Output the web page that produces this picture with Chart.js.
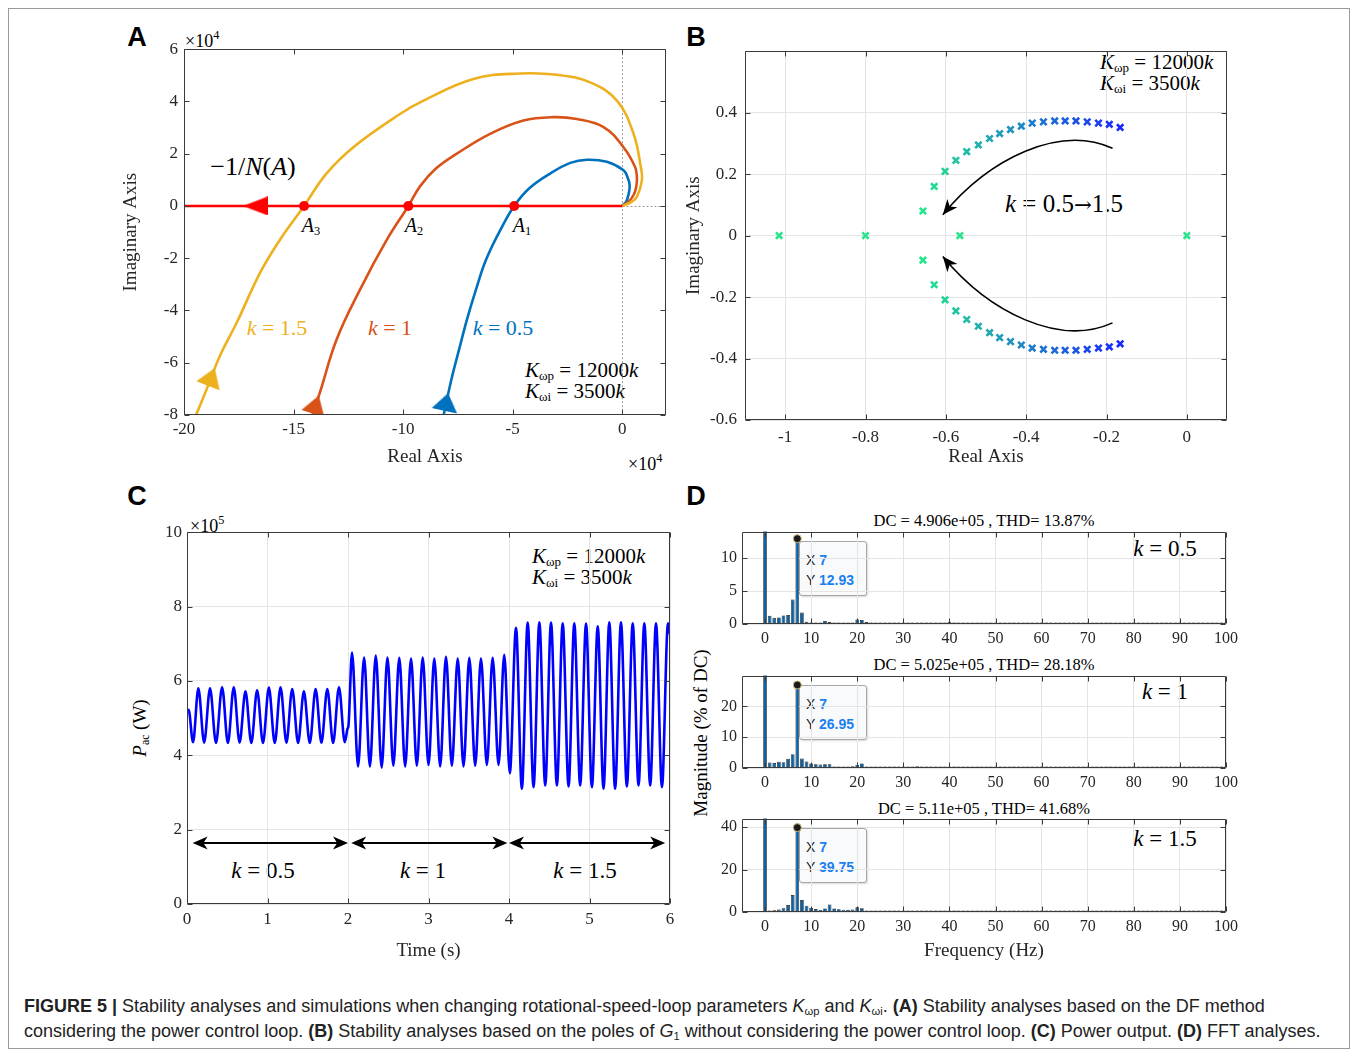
<!DOCTYPE html>
<html>
<head>
<meta charset="utf-8">
<title>Figure 5</title>
<script src="https://cdn.jsdelivr.net/npm/chart.js@4.4.1/dist/chart.umd.min.js"></script>
<style>
  html, body { margin: 0; padding: 0; background: #fff; }
  body { position: relative; width: 1356px; height: 1051px; overflow: hidden; }
  canvas { position: absolute; }
  .frame { position: absolute; left: 8px; top: 8px; width: 1342px; height: 1041px; border: 1px solid #9a9a9a; box-sizing: border-box; }
  .t { position: absolute; font-family: "Liberation Serif", "Times New Roman", serif; color: #000; white-space: nowrap; line-height: 1; transform: translate(-50%, -50%); }
  .lt { transform: translate(0, -50%); }
  .sub { font-size: 0.62em; vertical-align: -0.28em; line-height: 0; }
  .sup { font-size: 0.68em; vertical-align: 0.62em; line-height: 0; }
  .arr { font-family: "DejaVu Serif", serif; font-size: 0.85em; }
  .panel { position: absolute; font-family: "Liberation Sans", Arial, sans-serif; font-weight: bold; font-size: 27px; line-height: 1; transform: translate(-50%, -50%); }
  .tip { position: absolute; width: 68px; height: 55px; box-sizing: border-box; border: 1px solid #a6a6a6; border-radius: 3px; background: #f9fafc; font-family: "Liberation Sans", Arial, sans-serif; font-size: 14px; line-height: 20px; padding: 8px 0 0 6px; color: #222; box-shadow: 1px 1px 2px rgba(0,0,0,0.15); white-space: nowrap; }
  .tip b { color: #1a7ff0; }
  .caption { position: absolute; left: 24px; top: 994px; font-family: "Liberation Sans", Arial, sans-serif; font-size: 18px; line-height: 25px; color: #222; white-space: nowrap; }
</style>
</head>
<body>
<div class="frame"></div>

<div class="panel" style="left:137px;top:37px">A</div>
<div class="panel" style="left:696px;top:37px">B</div>
<div class="panel" style="left:137px;top:496px">C</div>
<div class="panel" style="left:696px;top:496px">D</div>

<!-- panel A text -->
<div class="t lt" style="left:185px;top:41px;font-size:18px">×10<span class="sup">4</span></div>
<div class="t lt" style="left:628px;top:464px;font-size:18px">×10<span class="sup">4</span></div>
<div class="t" style="left:253px;top:167px;font-size:26px">−1/<i>N</i>(<i>A</i>)</div>
<div class="t" style="left:311px;top:225px;font-size:20px"><i>A</i><span class="sub">3</span></div>
<div class="t" style="left:414px;top:225px;font-size:20px"><i>A</i><span class="sub">2</span></div>
<div class="t" style="left:522px;top:225px;font-size:20px"><i>A</i><span class="sub">1</span></div>
<div class="t" style="left:277px;top:328px;font-size:22px;color:#EDB120"><i>k</i> = 1.5</div>
<div class="t" style="left:390px;top:328px;font-size:22px;color:#D95319"><i>k</i> = 1</div>
<div class="t" style="left:503px;top:328px;font-size:22px;color:#0072BD"><i>k</i> = 0.5</div>
<div class="t lt" style="left:525px;top:370px;font-size:21px"><i>K</i><span class="sub">ωp</span> = 12000<i>k</i></div>
<div class="t lt" style="left:525px;top:391px;font-size:21px"><i>K</i><span class="sub">ωi</span> = 3500<i>k</i></div>

<!-- panel B text -->
<div class="t lt" style="left:1100px;top:62px;font-size:21px"><i>K</i><span class="sub">ωp</span> = 12000<i>k</i></div>
<div class="t lt" style="left:1100px;top:83px;font-size:21px"><i>K</i><span class="sub">ωi</span> = 3500<i>k</i></div>
<div class="t" style="left:1064px;top:203px;font-size:25px"><i>k</i> = 0.5<span class="arr">→</span>1.5</div>

<!-- panel C text -->
<div class="t lt" style="left:190px;top:526px;font-size:18px">×10<span class="sup">5</span></div>
<div class="t lt" style="left:532px;top:556px;font-size:21px"><i>K</i><span class="sub">ωp</span> = 12000<i>k</i></div>
<div class="t lt" style="left:532px;top:577px;font-size:21px"><i>K</i><span class="sub">ωi</span> = 3500<i>k</i></div>
<div class="t" style="left:263px;top:870px;font-size:23px"><i>k</i> = 0.5</div>
<div class="t" style="left:423px;top:870px;font-size:23px"><i>k</i> = 1</div>
<div class="t" style="left:585px;top:870px;font-size:23px"><i>k</i> = 1.5</div>
<div class="t" style="left:139px;top:728px;font-size:19px;transform:translate(-50%,-50%) rotate(-90deg)"><i>P</i><span class="sub">ac</span> (W)</div>

<!-- panel D text -->
<div class="t" style="left:984px;top:521px;font-size:16.5px">DC = 4.906e+05 , THD= 13.87%</div>
<div class="t" style="left:984px;top:665px;font-size:16.5px">DC = 5.025e+05 , THD= 28.18%</div>
<div class="t" style="left:984px;top:809px;font-size:16.5px">DC = 5.11e+05 , THD= 41.68%</div>
<div class="t" style="left:1165px;top:548px;font-size:23px"><i>k</i> = 0.5</div>
<div class="t" style="left:1165px;top:691px;font-size:23px"><i>k</i> = 1</div>
<div class="t" style="left:1165px;top:838px;font-size:23px"><i>k</i> = 1.5</div>
<div class="t" style="left:700px;top:733px;font-size:19px;transform:translate(-50%,-50%) rotate(-90deg)">Magnitude (% of DC)</div>
<div class="tip" style="left:799px;top:541px">X <b>7</b><br>Y <b>12.93</b></div>
<div class="tip" style="left:799px;top:685px">X <b>7</b><br>Y <b>26.95</b></div>
<div class="tip" style="left:799px;top:828px">X <b>7</b><br>Y <b>39.75</b></div>

<div class="caption"><b>FIGURE 5 |</b> Stability analyses and simulations when changing rotational-speed-loop parameters <i>K</i><span class="sub">ωp</span> and <i>K</i><span class="sub">ωi</span>. <b>(A)</b> Stability analyses based on the DF method<br>considering the power control loop. <b>(B)</b> Stability analyses based on the poles of <i>G</i><span class="sub">1</span> without considering the power control loop. <b>(C)</b> Power output. <b>(D)</b> FFT analyses.</div>

<script>
// ---------- A: DF loci (both axes in units of 1e4) ----------
const aK05Re = [0, 0.18, 0.30, 0.34, 0.24, 0.06, -0.70, -1.61, -2.37, -3.29, -4.25, -4.93, -5.53, -6.21, -6.67, -7.08, -7.44, -7.79, -8.15];
const aK05Im = [0, 0.16, 0.48, 0.80, 1.11, 1.37, 1.69, 1.77, 1.65, 1.24, 0.67, 0, -0.87, -2.05, -3.19, -4.33, -5.48, -6.62, -8.00];
const aK1Re = [0, 0.29, 0.52, 0.64, 0.67, 0.59, 0.06, -0.85, -2.07, -3.14, -4.51, -6.03, -7.55, -8.49, -9.22, -9.76, -10.74, -11.96, -13.03, -13.79, -14.14];
const aK1Im = [0, 0.16, 0.42, 0.73, 1.11, 1.49, 2.25, 3.02, 3.33, 3.40, 3.27, 2.76, 2.00, 1.44, 0.76, 0, -1.29, -3.19, -5.10, -7.12, -8.00];
const aK15Re = [0, 0.37, 0.67, 0.90, 0.85, 0.52, -0.24, -1.46, -2.98, -4.66, -6.79, -9.07, -10.14, -12.27, -13.52, -14.52, -15.62, -16.53, -17.59, -18.36, -18.96, -19.45];
const aK15Im = [0, 0.13, 0.35, 0.99, 1.49, 2.76, 4.03, 4.73, 5.02, 5.07, 4.86, 4.03, 3.52, 2.25, 1.22, 0, -1.29, -2.56, -4.46, -5.73, -7.00, -8.00];
const aDfRe = [0, -20];            // -1/N(A) along the negative real axis
const aDfIm = [0, 0];
const aCrossRe = [-4.93, -9.76, -14.52];   // A1, A2, A3
const aArrowRe = [-18.75, -13.98, -8.03, -16.74];
const aArrowIm = [-6.54, -7.60, -7.50, 0];
const aXTicks = [-20, -15, -10, -5, 0];
const aXLabels = ['-20', '-15', '-10', '-5', '0'];
const aYTicks = [-8, -6, -4, -2, 0, 2, 4, 6];
const aYLabels = ['-8', '-6', '-4', '-2', '0', '2', '4', '6'];

// ---------- B: poles of G1, k = 0.5 (right) ... 1.5 (left) ----------
const bUpperRe = [-0.166, -0.193, -0.220, -0.248, -0.276, -0.303, -0.329, -0.357, -0.385, -0.412, -0.439, -0.466, -0.491, -0.519, -0.548, -0.575, -0.602, -0.629, -0.657];
const bUpperIm = [0.352, 0.362, 0.366, 0.370, 0.373, 0.373, 0.373, 0.370, 0.366, 0.356, 0.345, 0.332, 0.316, 0.295, 0.273, 0.245, 0.209, 0.160, 0.080];
const bLowerRe = [-0.166, -0.193, -0.220, -0.248, -0.276, -0.303, -0.329, -0.357, -0.385, -0.412, -0.439, -0.466, -0.491, -0.519, -0.548, -0.575, -0.602, -0.629, -0.657];
const bLowerIm = [-0.352, -0.362, -0.366, -0.370, -0.373, -0.373, -0.373, -0.370, -0.366, -0.356, -0.345, -0.332, -0.316, -0.295, -0.273, -0.245, -0.209, -0.160, -0.080];
const bRealRe = [-1.015, -0.8, -0.565, 0];
const bRealIm = [0, 0, 0, 0];
const bXTicks = [-1, -0.8, -0.6, -0.4, -0.2, 0];
const bXLabels = ['-1', '-0.8', '-0.6', '-0.4', '-0.2', '0'];
const bYTicks = [-0.6, -0.4, -0.2, 0, 0.2, 0.4, 0.6];
const bYLabels = ['-0.6', '-0.4', '-0.2', '0', '0.2', '0.4', ''];

// ---------- C: Pac (units of 1e5 W), turning points of the oscillation ----------
const cTime = [0, 0.02, 0.075, 0.141, 0.213, 0.286, 0.36, 0.436, 0.508, 0.581, 0.653, 0.726, 0.799, 0.871, 0.944, 1.017, 1.09, 1.162, 1.235, 1.307, 1.38, 1.452, 1.525, 1.598, 1.67, 1.743, 1.815, 1.888, 1.96,
  1.995, 2.005,
  2.05, 2.125, 2.20, 2.272, 2.345, 2.418, 2.49, 2.563, 2.637, 2.71, 2.783, 2.855, 2.928, 3.0, 3.072, 3.145, 3.217, 3.29, 3.363, 3.435, 3.507, 3.58, 3.652, 3.725, 3.797, 3.87, 3.941,
  4.01,
  4.087, 4.16, 4.232, 4.305, 4.377, 4.45, 4.522, 4.595, 4.667, 4.74, 4.811, 4.884, 4.957, 5.03, 5.102, 5.174, 5.246, 5.318, 5.391, 5.464, 5.537, 5.609, 5.681, 5.754, 5.826, 5.9, 5.975,
  6.0];
const cPower = [5.18, 5.22, 4.35, 5.80, 4.34, 5.80, 4.33, 5.83, 4.33, 5.83, 4.34, 5.72, 4.33, 5.75, 4.33, 5.82, 4.33, 5.83, 4.34, 5.78, 4.33, 5.72, 4.33, 5.78, 4.34, 5.78, 4.33, 5.83, 4.35,
  4.72, 4.78,
  6.76, 3.70, 6.63, 3.70, 6.68, 3.67, 6.63, 3.72, 6.62, 3.70, 6.60, 3.72, 6.63, 3.74, 6.60, 3.70, 6.65, 3.72, 6.60, 3.70, 6.62, 3.72, 6.60, 3.74, 6.62, 3.74, 6.70,
  3.52,
  7.43, 3.10, 7.57, 3.14, 7.58, 3.19, 7.57, 3.19, 7.55, 3.16, 7.55, 3.19, 7.54, 3.14, 7.47, 3.10, 7.58, 3.10, 7.58, 3.16, 7.55, 3.19, 7.55, 3.19, 7.55, 3.14, 7.55,
  7.25];
const cXTicks = [0, 1, 2, 3, 4, 5, 6];
const cXLabels = ['0', '1', '2', '3', '4', '5', '6'];
const cYTicks = [0, 2, 4, 6, 8, 10];
const cYLabels = ['0', '2', '4', '6', '8', '10'];

// ---------- D: FFT of Pac, magnitude in % of DC ----------
const dFreq = [0, 1, 2, 3, 4, 5, 6, 7, 8, 9, 10, 11, 12, 13, 14, 15, 16, 17, 18, 19, 20, 21, 22, 23, 24, 25, 26, 27, 28, 29, 30, 31, 32, 33, 34, 35, 36, 37, 38, 39, 40, 41, 42, 43, 44, 45, 46, 47, 48, 49, 50,
  51, 52, 53, 54, 55, 56, 57, 58, 59, 60, 61, 62, 63, 64, 65, 66, 67, 68, 69, 70, 71, 72, 73, 74, 75, 76, 77, 78, 79, 80, 81, 82, 83, 84, 85, 86, 87, 88, 89, 90, 91, 92, 93, 94, 95, 96, 97, 98, 99, 100];
const dMagK05 = [100, 1.25, 0.95, 1.0, 1.3, 1.35, 3.7, 12.93, 1.75, 0.35,
  0.12, 0.08, 0.1, 0.45, 0.3, 0.08, 0.06, 0.06, 0.08, 0.1,
  0.7, 0.6, 0.3, 0.08, 0.06, 0.05, 0.06, 0.05, 0.06, 0.05,
  0.06, 0.05, 0.06, 0.05, 0.06, 0.05, 0.06, 0.05, 0.06, 0.08,
  0.35, 0.1, 0.05, 0.05, 0.05, 0.05, 0.05, 0.05, 0.05, 0.05,
  0.05, 0.05, 0.05, 0.05, 0.05, 0.05, 0.05, 0.05, 0.05, 0.05,
  0.05, 0.05, 0.05, 0.05, 0.05, 0.05, 0.05, 0.05, 0.05, 0.05,
  0.05, 0.05, 0.05, 0.05, 0.05, 0.05, 0.05, 0.05, 0.05, 0.05,
  0.05, 0.05, 0.05, 0.05, 0.05, 0.05, 0.05, 0.05, 0.05, 0.05,
  0.05, 0.05, 0.05, 0.05, 0.05, 0.05, 0.05, 0.05, 0.05, 0.05, 0.05];
const dMagK1 = [100, 1.8, 1.6, 2.0, 1.9, 3.0, 4.5, 26.95, 3.1, 2.1,
  1.5, 1.2, 1.1, 1.2, 1.2, 0.1, 0.08, 0.08, 0.1, 0.6,
  1.0, 1.5, 0.5, 0.4, 0.35, 0.3, 0.35, 0.3, 0.3, 0.2,
  0.2, 0.15, 0.2, 0.6, 0.5, 0.1, 0.08, 0.06, 0.06, 0.06,
  0.06, 0.06, 0.06, 0.06, 0.06, 0.06, 0.06, 0.06, 0.06, 0.06,
  0.06, 0.06, 0.06, 0.06, 0.06, 0.06, 0.06, 0.06, 0.06, 0.06,
  0.06, 0.06, 0.06, 0.06, 0.06, 0.06, 0.06, 0.06, 0.06, 0.06,
  0.06, 0.06, 0.06, 0.06, 0.06, 0.06, 0.06, 0.06, 0.06, 0.06,
  0.06, 0.06, 0.06, 0.06, 0.06, 0.06, 0.06, 0.06, 0.06, 0.06,
  0.06, 0.06, 0.06, 0.06, 0.06, 0.06, 0.06, 0.06, 0.06, 0.06, 0.06];
const dMagK15 = [100, 0.5, 0.8, 1.2, 1.8, 3.3, 8.0, 39.75, 5.6, 3.0,
  2.0, 1.4, 1.0, 1.7, 3.5, 1.7, 1.3, 1.1, 1.1, 1.2,
  2.2, 1.8, 0.6, 0.5, 0.4, 0.3, 0.3, 0.4, 0.6, 0.7,
  0.5, 0.5, 0.7, 0.7, 0.7, 0.15, 0.1, 0.08, 0.08, 0.08,
  0.08, 0.06, 0.06, 0.06, 0.06, 0.06, 0.06, 0.06, 0.4, 0.06,
  0.06, 0.06, 0.06, 0.06, 0.06, 0.06, 0.06, 0.06, 0.06, 0.06,
  0.06, 0.06, 0.06, 0.06, 0.06, 0.06, 0.06, 0.06, 0.06, 0.06,
  0.06, 0.06, 0.06, 0.06, 0.06, 0.06, 0.06, 0.06, 0.06, 0.06,
  0.06, 0.06, 0.06, 0.06, 0.06, 0.06, 0.06, 0.06, 0.06, 0.06,
  0.06, 0.06, 0.06, 0.06, 0.06, 0.06, 0.06, 0.06, 0.06, 0.06, 0.06];
const dXTicks = [0, 10, 20, 30, 40, 50, 60, 70, 80, 90, 100];
const dXLabels = ['0', '10', '20', '30', '40', '50', '60', '70', '80', '90', '100'];
const dPeakIdx = 7;   // 7 Hz line marked with a data tip

// ---------- helpers ----------
Chart.defaults.font.family = '"Liberation Serif", "Times New Roman", serif';
Chart.defaults.color = '#262626';
Chart.defaults.animation = false;
Chart.defaults.plugins.legend.display = false;
Chart.defaults.plugins.tooltip.enabled = false;

const pts = (xs, ys) => xs.map((v, i) => ({x: v, y: ys[i]}));

function axis(min, max, ticks, labels, size, pad, grid, title) {
  return {
    type: 'linear', min, max,
    afterBuildTicks: s => { s.ticks = ticks.map(v => ({value: v})); },
    ticks: {autoSkip: false, maxRotation: 0, minRotation: 0, padding: pad, font: {size}, callback: (v, i) => labels[i]},
    grid: {display: grid, color: '#e4e4e4', lineWidth: 1, drawTicks: false},
    border: {display: false},
    title: {display: !!title, text: title || '', font: {size: 19}, padding: 0, color: '#262626'}
  };
}

// place a canvas so that the plot area lands on `area`; m = room for labels around it
function makeChart(area, m, config, plugins) {
  const c = document.createElement('canvas');
  const w = area.r - area.l + m.l + m.r, h = area.b - area.t + m.t + m.b;
  c.width = w; c.height = h;
  c.style.left = (area.l - m.l) + 'px'; c.style.top = (area.t - m.t) + 'px';
  c.style.width = w + 'px'; c.style.height = h + 'px';
  document.body.appendChild(c);
  const o = config.options;
  o.responsive = false;
  o.devicePixelRatio = 1;
  o.events = [];
  o.layout = {padding: {left: 0, top: m.t, right: m.r, bottom: 0}};
  o.scales.x.afterFit = s => { s.height = m.b; };
  o.scales.y.afterFit = s => { s.width = m.l; };
  config.plugins = [frameBox].concat(plugins || []);
  return new Chart(c, config);
}

function arrowHead(ctx, x, y, ang, len, half) {
  const bx = x - len * Math.cos(ang), by = y - len * Math.sin(ang);
  const nx = x - 0.72 * len * Math.cos(ang), ny = y - 0.72 * len * Math.sin(ang);
  ctx.beginPath();
  ctx.moveTo(x, y);
  ctx.lineTo(bx + half * Math.sin(ang), by - half * Math.cos(ang));
  ctx.lineTo(nx, ny);
  ctx.lineTo(bx - half * Math.sin(ang), by + half * Math.cos(ang));
  ctx.closePath();
  ctx.fill();
}

// matlab style box with inward ticks on all four sides
const frameBox = {
  id: 'frameBox',
  afterDatasetsDraw(chart) {
    const {ctx, chartArea: a} = chart;
    const sx = chart.scales.x, sy = chart.scales.y;
    const L = Math.round(a.left) + 0.5, R = Math.round(a.right) - 0.5;
    const T = Math.round(a.top) + 0.5, B = Math.round(a.bottom) - 0.5;
    const len = 5;
    ctx.save();
    ctx.strokeStyle = '#3a3a3a';
    ctx.lineWidth = 1;
    ctx.beginPath();
    ctx.rect(L, T, R - L, B - T);
    sx.ticks.forEach(t => {
      const p = Math.round(sx.getPixelForValue(t.value)) + 0.5;
      ctx.moveTo(p, B); ctx.lineTo(p, B - len);
      ctx.moveTo(p, T); ctx.lineTo(p, T + len);
    });
    sy.ticks.forEach(t => {
      const p = Math.round(sy.getPixelForValue(t.value)) + 0.5;
      ctx.moveTo(L, p); ctx.lineTo(L + len, p);
      ctx.moveTo(R, p); ctx.lineTo(R - len, p);
    });
    ctx.stroke();
    ctx.restore();
  }
};

// dotted zero lines of the nyquist plot
const zeroLines = {
  id: 'zeroLines',
  beforeDatasetsDraw(chart) {
    const {ctx, chartArea: a, scales: {x, y}} = chart;
    const px = Math.round(x.getPixelForValue(0)) + 0.5, py = Math.round(y.getPixelForValue(0)) + 0.5;
    ctx.save();
    ctx.strokeStyle = '#9c9c9c';
    ctx.lineWidth = 1;
    ctx.setLineDash([2, 2]);
    ctx.beginPath();
    ctx.moveTo(px, a.top); ctx.lineTo(px, a.bottom);
    ctx.moveTo(px, py); ctx.lineTo(a.right, py);
    ctx.stroke();
    ctx.restore();
  }
};

// curved arrows showing pole movement
const poleArrows = {
  id: 'poleArrows',
  afterDatasetsDraw(chart, args, opts) {
    const {ctx, scales: {x, y}} = chart;
    ctx.save();
    ctx.strokeStyle = '#000';
    ctx.fillStyle = '#000';
    ctx.lineWidth = 1.6;
    opts.paths.forEach(p => {
      const q = p.map(([u, v]) => [x.getPixelForValue(u), y.getPixelForValue(v)]);
      ctx.beginPath();
      ctx.moveTo(q[0][0], q[0][1]);
      ctx.bezierCurveTo(q[1][0], q[1][1], q[2][0], q[2][1], q[3][0], q[3][1]);
      ctx.stroke();
      const ang = Math.atan2(q[3][1] - q[2][1], q[3][0] - q[2][0]);
      arrowHead(ctx, q[3][0], q[3][1], ang, 15, 6.5);
    });
    ctx.restore();
  }
};

// double arrows marking the k stages
const stageArrows = {
  id: 'stageArrows',
  afterDatasetsDraw(chart, args, opts) {
    const {ctx, scales: {x, y}} = chart;
    const py = y.getPixelForValue(opts.level);
    ctx.save();
    ctx.strokeStyle = '#000';
    ctx.fillStyle = '#000';
    ctx.lineWidth = 2;
    opts.spans.forEach(([t0, t1]) => {
      const x0 = x.getPixelForValue(t0), x1 = x.getPixelForValue(t1);
      ctx.beginPath(); ctx.moveTo(x0 + 8, py); ctx.lineTo(x1 - 8, py); ctx.stroke();
      arrowHead(ctx, x0, py, Math.PI, 15, 6.5);
      arrowHead(ctx, x1, py, 0, 15, 6.5);
    });
    ctx.restore();
  }
};

function triangleSprite(color, w, h) {
  const c = document.createElement('canvas');
  c.width = w; c.height = h;
  const g = c.getContext('2d');
  g.fillStyle = color;
  g.beginPath(); g.moveTo(w / 2, 0); g.lineTo(w, h); g.lineTo(0, h); g.closePath(); g.fill();
  return c;
}

function poleColor(i, n) {
  const t = n > 1 ? i / (n - 1) : 0;
  const r = Math.round(25 + t * 10), g = Math.round(40 + t * 190), b = Math.round(255 - t * 115);
  return `rgb(${r},${g},${b})`;
}

// ---------- A ----------
const curve = (re, im, color) => ({
  data: pts(re, im), showLine: true, borderColor: color, borderWidth: 2.6,
  pointRadius: 0, tension: 0.4, order: 3
});
makeChart({l: 184, t: 47, r: 666, b: 415}, {l: 64, t: 14, r: 14, b: 53}, {
  type: 'scatter',
  data: {datasets: [
    curve(aK15Re, aK15Im, '#EDB120'),
    curve(aK1Re, aK1Im, '#D95319'),
    curve(aK05Re, aK05Im, '#0072BD'),
    {data: pts(aDfRe, aDfIm), showLine: true, borderColor: '#ff0000', borderWidth: 2.6, pointRadius: 0, order: 2},
    {data: aCrossRe.map(v => ({x: v, y: 0})), pointRadius: 5, pointBackgroundColor: '#ff0000', pointBorderWidth: 0, order: 1},
    {data: pts(aArrowRe, aArrowIm), order: 0, pointRadius: 12,
     pointStyle: [triangleSprite('#EDB120', 25, 19), triangleSprite('#D95319', 24, 19), triangleSprite('#0072BD', 26, 18), triangleSprite('#ff0000', 19, 25)],
     pointRotation: [21, 18, 12, -90]}
  ]},
  options: {scales: {
    x: axis(-20, 2, aXTicks, aXLabels, 17, 4, false, 'Real Axis'),
    y: axis(-8, 6, aYTicks, aYLabels, 17, 6, false, 'Imaginary Axis')
  }}
}, [zeroLines]);

// ---------- B ----------
const poles = (re, im) => ({
  data: pts(re, im), pointStyle: 'crossRot', pointRadius: 4.5, pointBorderWidth: 2.6,
  pointBorderColor: ctx => poleColor(ctx.dataIndex || 0, re.length)
});
makeChart({l: 745, t: 47, r: 1227, b: 420}, {l: 62, t: 14, r: 14, b: 48}, {
  type: 'scatter',
  data: {datasets: [
    poles(bUpperRe, bUpperIm),
    poles(bLowerRe, bLowerIm),
    {data: pts(bRealRe, bRealIm), pointStyle: 'crossRot', pointRadius: 4.5, pointBorderWidth: 2.6, pointBorderColor: '#2de38e'}
  ]},
  options: {
    scales: {
      x: axis(-1.1, 0.1, bXTicks, bXLabels, 17, 7, true, 'Real Axis'),
      y: axis(-0.6, 0.6, bYTicks, bYLabels, 17, 8, true, 'Imaginary Axis')
    },
    plugins: {poleArrows: {paths: [
      [[-0.185, 0.284], [-0.317, 0.362], [-0.491, 0.252], [-0.6075, 0.068]],
      [[-0.185, -0.284], [-0.317, -0.362], [-0.491, -0.252], [-0.6075, -0.068]]
    ]}}
  }
}, [poleArrows]);

// ---------- C ----------
makeChart({l: 187, t: 531, r: 670, b: 904}, {l: 60, t: 14, r: 14, b: 58}, {
  type: 'scatter',
  data: {datasets: [{
    data: pts(cTime, cPower), showLine: true, borderColor: '#0000ff', borderWidth: 2.6,
    pointRadius: 0, cubicInterpolationMode: 'monotone'
  }]},
  options: {
    scales: {
      x: axis(0, 6, cXTicks, cXLabels, 17, 5, true, 'Time (s)'),
      y: axis(0, 10, cYTicks, cYLabels, 17, 5, true, null)
    },
    plugins: {stageArrows: {level: 1.64, spans: [[0.07, 2.0], [2.04, 3.98], [4.0, 5.94]]}}
  }
}, [stageArrows]);

// ---------- D ----------
function fftChart(area, mag, yMax, yTicks, yLabels, withTitle) {
  const x = axis(-5, 100, dXTicks, dXLabels, 16, 5, true, withTitle ? 'Frequency (Hz)' : null);
  x.offset = false;
  x.grid.offset = false;
  return makeChart(area, {l: 46, t: 14, r: 22, b: withTitle ? 50 : 30}, {
    type: 'bar',
    data: {
      labels: dFreq,
      datasets: [
        {type: 'scatter', data: [{x: dFreq[dPeakIdx], y: mag[dPeakIdx]}], pointRadius: 4,
         pointBackgroundColor: '#1a1a1a', pointBorderColor: '#cdbb7d', pointBorderWidth: 1, order: 0},
        {data: mag, backgroundColor: '#0b63a8', borderColor: '#111', borderWidth: 0.7,
         barPercentage: 0.8, categoryPercentage: 1, minBarLength: 1.5, order: 1}
      ]
    },
    options: {scales: {x, y: axis(0, yMax, yTicks, yLabels, 16, 5, true, null)}}
  });
}
fftChart({l: 742, t: 531, r: 1226, b: 624}, dMagK05, 14, [0, 5, 10], ['0', '5', '10'], false);
fftChart({l: 742, t: 675, r: 1226, b: 768}, dMagK1, 30, [0, 10, 20], ['0', '10', '20'], false);
fftChart({l: 742, t: 818, r: 1226, b: 912}, dMagK15, 44, [0, 20, 40], ['0', '20', '40'], true);
</script>
</body>
</html>
